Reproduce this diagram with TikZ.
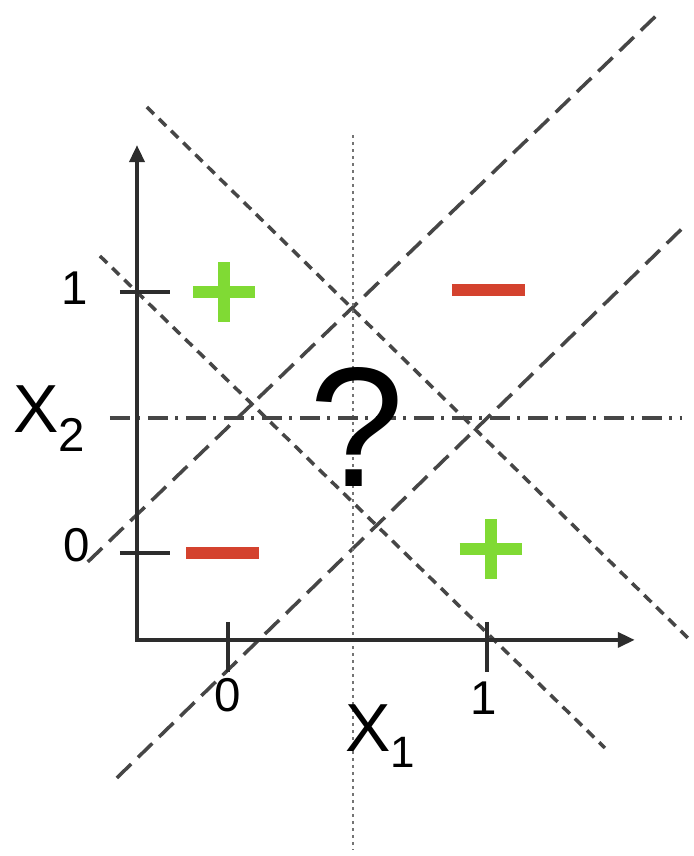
\documentclass[tikz,border=0pt]{standalone}
\usepackage{fontspec}
\setmainfont{Liberation Sans}
\usepackage{xcolor}
\usepackage{tikz}
\usetikzlibrary{arrows.meta}
\definecolor{plusgreen}{RGB}{128,218,52}
\definecolor{minusred}{RGB}{212,66,46}
\definecolor{linegray}{RGB}{70,70,70}
\definecolor{axisgray}{RGB}{45,45,45}

\begin{document}
\begin{tikzpicture}[
  x=5.18cm, y=5.22cm,
  axisline/.style={draw=axisgray, line width=2.1pt},
  ticksty/.style={draw=axisgray, line width=1.9pt},
  sepshort/.style={draw=linegray, line width=2pt, dash pattern=on 0.2cm off 0.14cm},
  seplong/.style={draw=linegray, line width=2pt, dash pattern=on 0.4cm off 0.19cm},
  sepdot/.style={draw=linegray!75, line width=1.6pt, dash pattern=on 0.05cm off 0.09cm},
  sepdashdot/.style={draw=linegray, line width=2pt,
                     dash pattern=on 0.4cm off 0.15cm on 0.06cm off 0.15cm},
  ticklabel/.style={font=\fontsize{27}{27}\selectfont, inner sep=0pt},
  axislabel/.style={font=\fontsize{38.7}{38.7}\selectfont, inner sep=0pt, anchor=base west},
  plussign/.style={draw=plusgreen, line width=6.8pt},
  minussign/.style={draw=minusred, line width=6.8pt}
]
\useasboundingbox (-0.880,-1.161) rectangle (1.799,2.119);

% end points of the separating lines
\coordinate (dn1-top) at (-0.494,1.138);
\coordinate (dn1-bot) at (1.456,-0.747);
\coordinate (dn2-top) at (-0.313,1.709);
\coordinate (dn2-bot) at (1.784,-0.333);
\coordinate (up1-bot) at (-0.541,-0.034);
\coordinate (up1-top) at (1.676,2.080);
\coordinate (up2-bot) at (-0.429,-0.862);
\coordinate (up2-top) at (1.768,1.257);
\coordinate (vmid-top) at (0.483,1.60);
\coordinate (vmid-bot) at (0.483,-1.138);
\coordinate (hmid-left) at (-0.456,0.517);
\coordinate (hmid-right) at (1.753,0.517);

\draw[sepshort] (dn1-top) -- (dn1-bot);
\draw[sepshort] (dn2-top) -- (dn2-bot);
\draw[seplong] (up1-bot) -- (up1-top);
\draw[seplong] (up2-bot) -- (up2-top);
\draw[sepdot] (vmid-top) -- (vmid-bot);
\draw[sepdashdot] (hmid-left) -- (hmid-right);

% axes
\coordinate (origin) at (-0.351,-0.333);
\coordinate (ytip) at (-0.351,1.563);
\coordinate (xtip) at (1.571,-0.333);
\draw[axisline, {Triangle[length=0.34cm,width=0.3cm]}-{Triangle[length=0.34cm,width=0.3cm]}]
  (ytip) -- (origin) -- (xtip);
\foreach \v in {0,1} {
  \draw[ticksty] (\v,-0.264) -- (\v,-0.456);
  \draw[ticksty] (-0.417,\v) -- (-0.224,\v);
}

\node[ticklabel] (xzero) at (0,-0.544) {0};
\node[ticklabel] (xone) at (0.988,-0.556) {1};
\node[ticklabel] (yzero) at (-0.583,0.031) {0};
\node[ticklabel] (yone) at (-0.591,1.015) {1};
\node[axislabel] (xlabel) at (0.452,-0.762)
  {X\raisebox{-9pt}{\fontsize{25}{25}\selectfont 1}};
\node[axislabel] (ylabel) at (-0.830,0.460)
  {X\raisebox{-10.8pt}{\fontsize{27}{27}\selectfont 2}};

% class marks
\foreach \c in {(-0.015,1.0),(1.015,0.015)}
  \draw[plussign] \c ++(-0.12,0) -- ++(0.24,0) \c ++(0,-0.115) -- ++(0,0.23);
\foreach \c in {(1.006,1.008),(-0.019,0)}
  \draw[minussign] \c ++(-0.141,0) -- ++(0.282,0);

\node[font=\fontsize{97}{97}\selectfont, inner sep=0pt] (query) at (0.498,0.483) {?};
\end{tikzpicture}
\end{document}
